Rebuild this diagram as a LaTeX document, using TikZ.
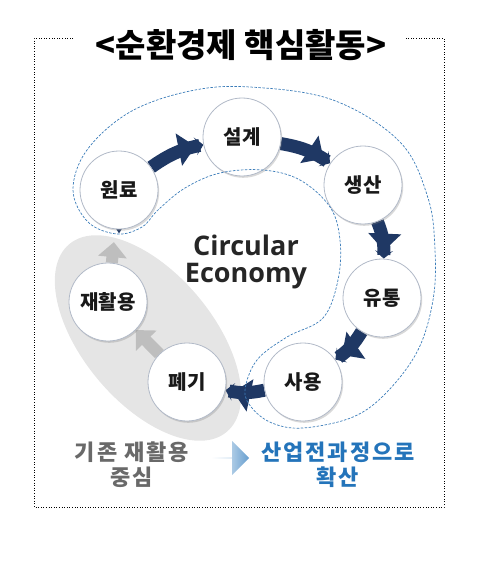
\documentclass[tikz,border=0pt]{standalone}
\usepackage{fontspec}
\setmainfont{Noto Sans CJK KR}
\newfontfamily\latinfont{Open Sans}
\usepackage{tikz}
\usetikzlibrary{arrows.meta,shapes.geometric,shapes.arrows,shadows,backgrounds,positioning}
\definecolor{navy}{RGB}{31,56,100}
\definecolor{ringgray}{RGB}{178,186,200}
\definecolor{reusegray}{RGB}{190,190,190}
\definecolor{bandblue}{RGB}{60,125,185}
\definecolor{spreadblue}{RGB}{36,116,186}
\definecolor{oldgray}{RGB}{105,105,105}
\tikzstyle{stage}  = [circle, draw=ringgray, line width=0.8pt, fill=white, minimum size=78pt, inner sep=0pt, drop shadow={shadow xshift=1.2pt, shadow yshift=-1.8pt, opacity=0.3}, font=\fontsize{20}{20}\selectfont\bfseries, text=black!90]
\tikzstyle{flow}   = [draw=navy, line width=13pt, -{Triangle[width=32pt,length=17pt] Stealth[width=18pt,length=8pt,inset=4pt]}, bend left=12]
\tikzstyle{reuse}  = [draw=reusegray, line width=12pt, -{Triangle[width=28pt,length=15pt]}]
\tikzstyle{band}   = [draw=bandblue, line width=0.7pt, dash pattern=on 2.5pt off 1.5pt]
\tikzstyle{frame}  = [draw=black, line width=0.6pt, dotted]
\tikzstyle{caption} = [font=\fontsize{22}{25}\selectfont\bfseries\addfontfeature{LetterSpace=9}, align=center]

\begin{document}
\begin{tikzpicture}[x=1pt,y=-1pt]
	\useasboundingbox (0,0) rectangle (476,564);

	% outer frame with gap for the title
	\draw[frame] (73,38) -- (34,38) -- (34,507) -- (444,507) -- (444,38) -- (405,38);
	\node[font=\fontsize{33}{33}\selectfont\bfseries] (head) at (241,45) {<순환경제 핵심활동>};

	% stages
	\node[stage] (won)  at (119,190) {원료};
	\node[stage] (seol) at (242,137) {설계};
	\node[stage] (saeng) at (363,185) {생산};
	\node[stage] (yu)   at (382,298) {유통};
	\node[stage] (sa)   at (303,382) {사용};
	\node[stage] (pye)  at (187,382) {폐기};
	\node[stage] (jae)  at (108,302) {재활용};

	\node[font=\latinfont\fontsize{27}{27}\selectfont\bfseries, text=black!85, align=center] (ce) at (246,262) {Circular\\Economy};

	\begin{scope}[on background layer]
		\node[ellipse, fill=black!10, minimum width=245pt, minimum height=130pt, rotate=-50] (old) at (148,338) {};

		\draw[flow] (won) to (seol);
		\draw[flow] (seol) to (saeng);
		\draw[flow] (saeng) to (yu);
		\draw[flow] (yu) to (sa);
		\draw[flow] (sa) to (pye);

		\draw[reuse] (pye) -- (jae);
		\draw[reuse, shorten >=13pt] (jae) -- (won);
		\fill[navy] ([xshift=-10pt,yshift=12pt]won.south) -- ([yshift=-4pt]won.south) -- ([xshift=10pt,yshift=12pt]won.south) -- ([yshift=5pt]won.south) -- cycle;
	\end{scope}

	% band around the whole industry process
	\draw[band] plot[smooth cycle, tension=0.6] coordinates {
		(73,190) (88,222) (117,234) (142,227) (158,210) (185,188) (220,173) (263,170)
		(300,180) (330,207) (340,240) (338,280) (323,318) (287,337) (257,360)
		(245,390) (252,408) (272,423) (303,428) (353,417) (387,392) (418,350)
		(433,300) (435,250) (428,198) (400,142) (333,100) (250,87) (190,91)
		(130,112) (87,150)};

	% bottom captions
	\node[caption, text=oldgray] (oldtxt) at (132,465) {기존 재활용\\중심};
	\node[caption, text=spreadblue] (newtxt) at (338,465) {산업전과정으로\\확산};
	\node[single arrow, draw=none, left color=white, right color=spreadblue!70, minimum height=38pt, minimum width=34pt, single arrow head extend=7pt, inner sep=0pt] (spread) at (230,458) {};
\end{tikzpicture}
\end{document}
